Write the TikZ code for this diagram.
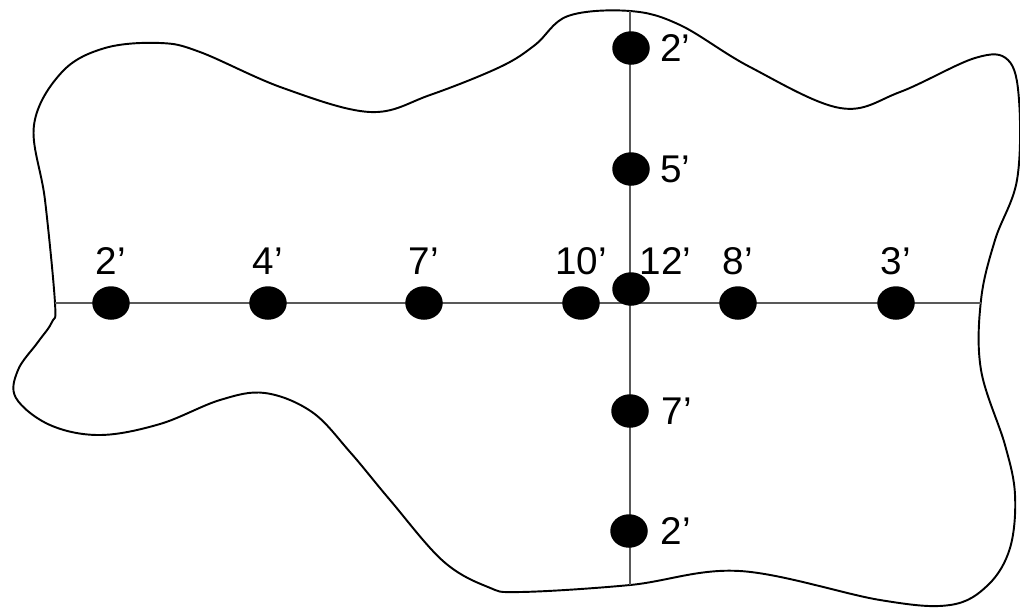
\documentclass[tikz,border=0pt]{standalone}
\usepackage{fontspec}
\setmainfont{Liberation Sans}
\usetikzlibrary{shapes.geometric,positioning}
\tikzset{
  punto/.style={ellipse,fill=black,minimum width=0.75cm,minimum height=0.67cm,inner sep=0pt},
  asse/.style={gray!70!black,line width=0.8pt},
  bordo/.style={black,line width=1.1pt},
  etich/.style={font=\fontsize{22pt}{26pt}\selectfont,inner sep=0pt}
}
\begin{document}
\begin{tikzpicture}[x=0.02cm,y=-0.02cm]
  \useasboundingbox (0,0) rectangle (1020,610);
  % contorno della zona
  \draw[bordo] plot[smooth cycle,tension=0.6] coordinates {
    (55,303) (45,200) (34,125) (62,72) (105,48) (160,43) (200,52)
    (283,88) (370,112) (430,95) (500,67) (535,45) (568,16) (630,11)
    (680,25) (750,67) (840,108) (900,92) (975,58) (1008,60) (1019,100)
    (1017,180) (995,240) (981,300) (981,370) (1005,445) (1015,495)
    (1010,548) (988,585) (950,605) (880,600) (740,571) (630,585)
    (520,592) (488,587) (443,561) (390,500) (350,452) (312,412)
    (265,393) (220,400) (160,424) (100,435) (50,425) (16,398)
    (18,370) (38,342) (52,322)};
  % assi
  \coordinate (hsx) at (55,303);
  \coordinate (hdx) at (981,303);
  \coordinate (vsu) at (630,11);
  \coordinate (vgiu) at (630,585);
  \draw[asse] (hsx) -- (hdx);
  \draw[asse] (vsu) -- (vgiu);
  % punti sull'asse orizzontale
  \node[punto] (h1) at (111,303) {};
  \node[punto] (h2) at (268,303) {};
  \node[punto] (h3) at (424,303) {};
  \node[punto] (h4) at (581,303) {};
  \node[punto] (h5) at (631,289) {};
  \node[punto] (h6) at (738,303) {};
  \node[punto] (h7) at (896,303) {};
  \node[etich,above=0.22cm of h1] (lh1) {2'};
  \node[etich,above=0.22cm of h2] (lh2) {4'};
  \node[etich,above=0.22cm of h3] (lh3) {7'};
  \node[etich,above=0.22cm of h4] (lh4) {10'};
  \node[etich,above right=0.04cm and -0.1cm of h5] (lh5) {12'};
  \node[etich,above=0.22cm of h6] (lh6) {8'};
  \node[etich,above=0.22cm of h7] (lh7) {3'};
  % punti sull'asse verticale
  \node[punto] (v1) at (631,48) {};
  \node[punto] (v2) at (631,169) {};
  \node[punto] (v3) at (630,411) {};
  \node[punto] (v4) at (629,531) {};
  \node[etich,right=0.2cm of v1] (lv1) {2'};
  \node[etich,right=0.2cm of v2] (lv2) {5'};
  \node[etich,right=0.25cm of v3] (lv3) {7'};
  \node[etich,right=0.25cm of v4] (lv4) {2'};
\end{tikzpicture}
\end{document}
